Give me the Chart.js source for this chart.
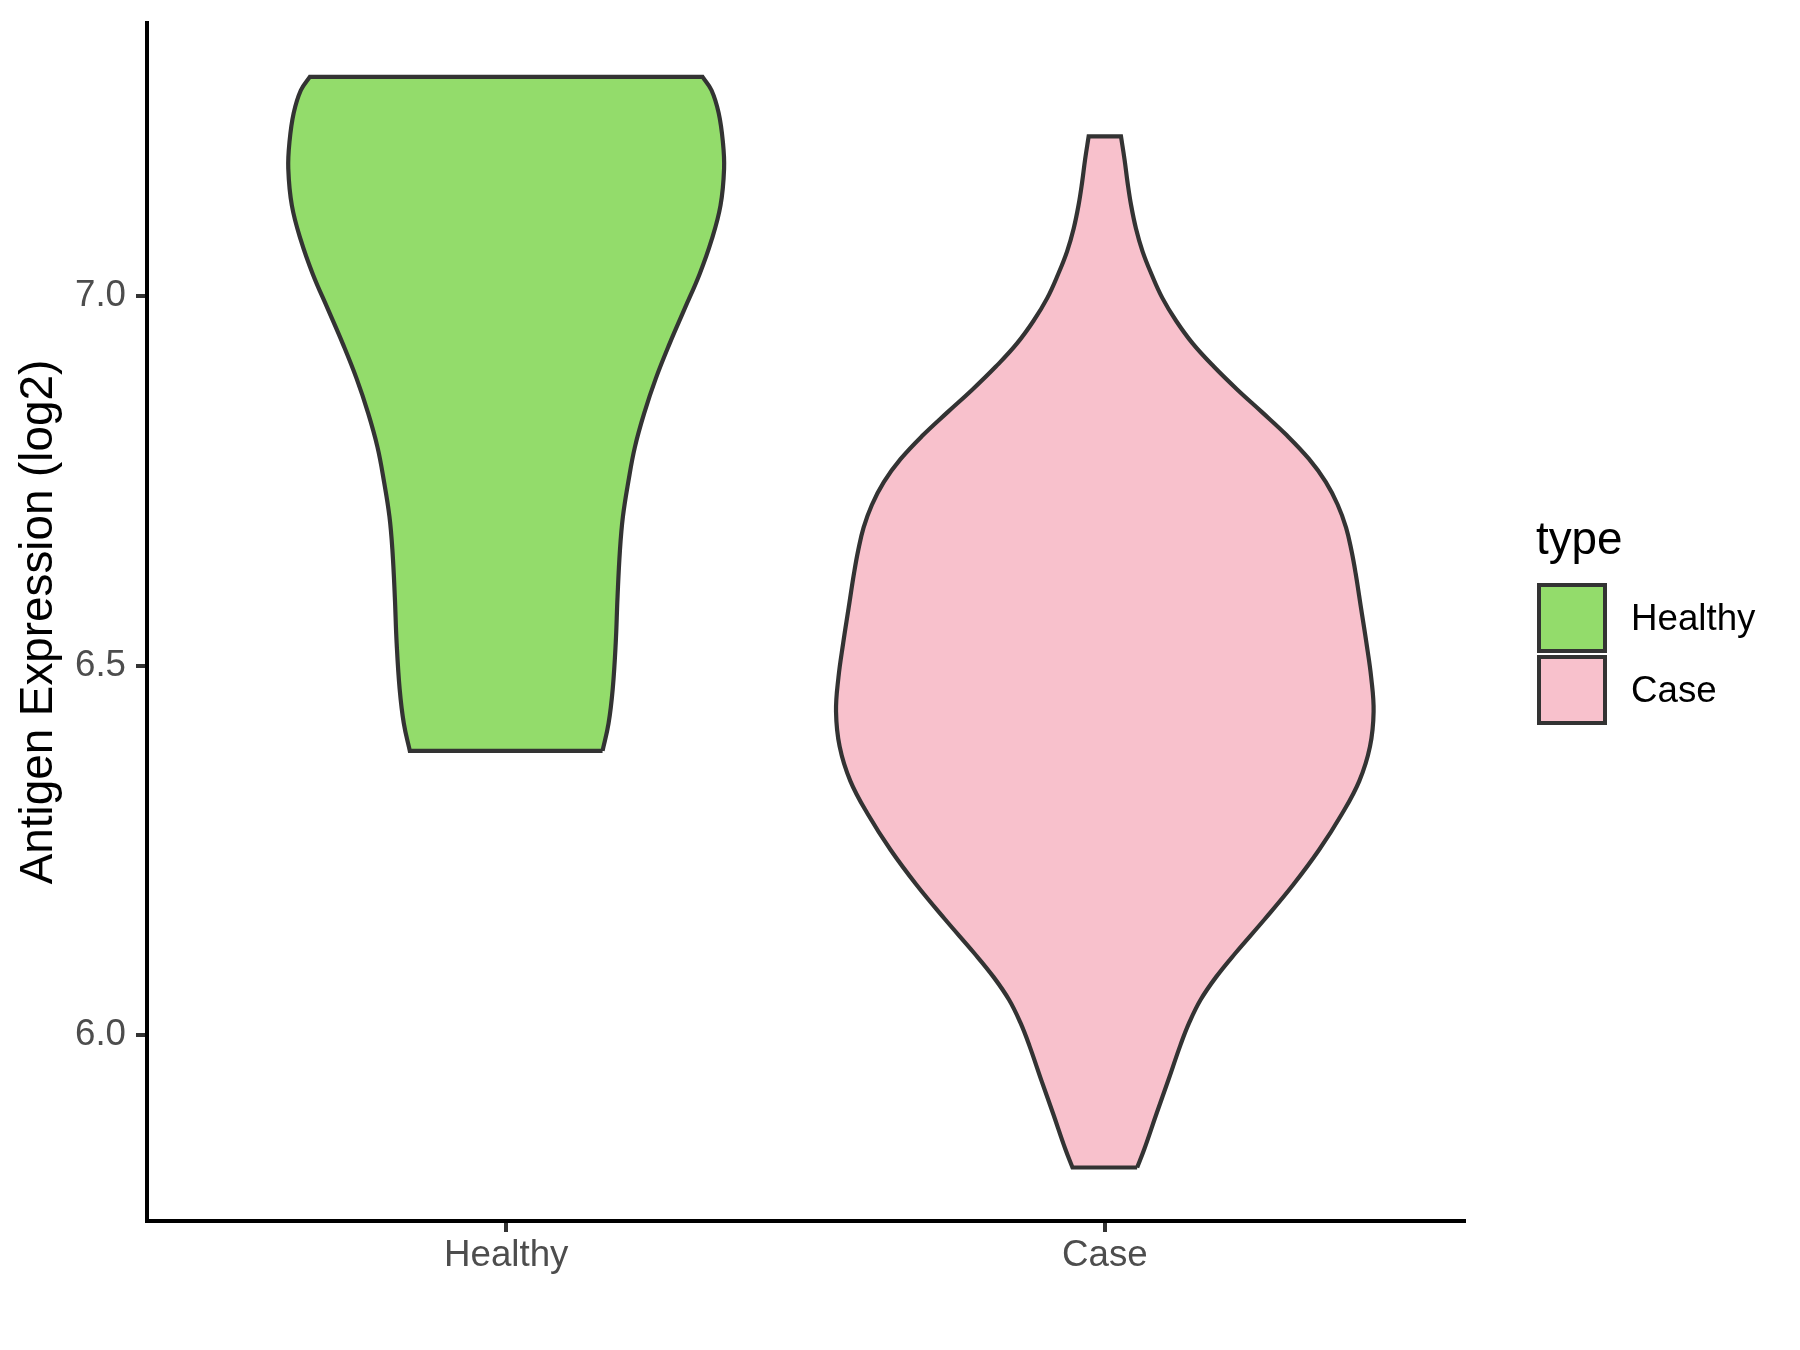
<!DOCTYPE html>
<html><head><meta charset="utf-8">
<script src="https://cdn.jsdelivr.net/npm/chart.js@4.4.1/dist/chart.umd.min.js"></script>
<style>
html,body{margin:0;padding:0;background:#fff;}
#wrap{position:relative;width:1800px;height:1350px;font-family:"Liberation Sans",Arial,sans-serif;}
canvas{position:absolute;left:0;top:0;}
.lg{position:absolute;white-space:nowrap;}
.key{position:absolute;box-sizing:border-box;border:4px solid #333333;}
</style></head><body>
<div id="wrap"><canvas id="c" width="1800" height="1350"></canvas></div>
<script>
// ---- data ----
const categories = ['Healthy', 'Case'];
const fillColors = ['#93DC6B', '#F8C1CC'];
const legendTitle = 'type';
const yAxisTitle = 'Antigen Expression (log2)';
const yTickValues = [6.0, 6.5, 7.0];
const yTickLabels = ['6.0', '6.5', '7.0'];
const yMin = 5.7486, yMax = 7.37;

// violin outlines: expression values and half-widths (in category units)
const healthyY  = [6.385, 6.422, 6.469, 6.531, 6.593, 6.656, 6.702, 6.749, 6.796, 6.843, 6.889, 6.936, 6.983, 7.030, 7.076, 7.123, 7.173, 7.209, 7.248, 7.279, 7.297];
const healthyHW = [0.161, 0.171, 0.178, 0.183, 0.186, 0.190, 0.195, 0.204, 0.215, 0.231, 0.250, 0.273, 0.298, 0.323, 0.343, 0.358, 0.364, 0.362, 0.355, 0.343, 0.328];
const caseY  = [5.821, 5.846, 5.893, 5.939, 5.986, 6.017, 6.048, 6.079, 6.111, 6.157, 6.204, 6.251, 6.298, 6.344, 6.391, 6.438, 6.484, 6.531, 6.578, 6.625, 6.656, 6.687, 6.718, 6.749, 6.780, 6.812, 6.843, 6.874, 6.905, 6.936, 6.967, 6.998, 7.030, 7.061, 7.092, 7.123, 7.154, 7.185, 7.2165];
const caseHW = [0.054, 0.066, 0.086, 0.106, 0.126, 0.141, 0.160, 0.186, 0.218, 0.267, 0.315, 0.358, 0.395, 0.425, 0.443, 0.449, 0.445, 0.437, 0.428, 0.419, 0.412, 0.403, 0.389, 0.369, 0.341, 0.304, 0.263, 0.221, 0.182, 0.147, 0.119, 0.096, 0.078, 0.063, 0.052, 0.044, 0.038, 0.033, 0.027];

const FONT = '"Liberation Sans", Arial, sans-serif';

// closed outline; cap corners are repeated so the spline keeps them sharp
function outline(center, ys, hws) {
  const n = ys.length;
  const pts = [];
  for (let i = 0; i < n; i++) pts.push({x: center + hws[i], y: ys[i]});
  pts.push({x: center + hws[n - 1], y: ys[n - 1]});
  pts.push({x: center - hws[n - 1], y: ys[n - 1]});
  for (let i = n - 1; i >= 0; i--) pts.push({x: center - hws[i], y: ys[i]});
  pts.push({x: center - hws[0], y: ys[0]});
  pts.push({x: center + hws[0], y: ys[0]});
  return pts;
}

const violins = [[healthyY, healthyHW], [caseY, caseHW]];
const datasets = violins.map((v, i) => ({
  label: categories[i],
  data: outline(i + 1, v[0], v[1]),
  borderColor: '#333333',
  borderWidth: 4.2,
  backgroundColor: fillColors[i],
  fill: 'shape',
  pointRadius: 0,
  tension: 0.4,
  borderJoinStyle: 'miter'
}));

const axisGrid = {display: true, drawOnChartArea: false, drawTicks: true, tickLength: 11, color: '#333333', lineWidth: 4};
const axisBorder = {display: true, color: '#000000', width: 4};
const noPad = s => { s.paddingTop = 0; s.paddingBottom = 0; s.paddingLeft = 0; s.paddingRight = 0; };

new Chart(document.getElementById('c'), {
  type: 'line',
  data: {datasets},
  options: {
    responsive: false, devicePixelRatio: 1, animation: false,
    layout: {padding: {left: 0, right: 336, top: 23, bottom: 0}},
    plugins: {legend: {display: false}, tooltip: {enabled: false}},
    scales: {
      x: {
        type: 'linear', min: 0.4, max: 2.6,
        afterBuildTicks: s => { s.ticks = categories.map((c, i) => ({value: i + 1})); },
        afterFit: s => { s.height = 129; noPad(s); },
        ticks: {callback: v => categories[Math.round(v) - 1], font: {family: FONT, size: 36.7}, color: '#4D4D4D', padding: 2, maxRotation: 0, autoSkip: false},
        grid: axisGrid, border: axisBorder
      },
      y: {
        type: 'linear', min: yMin, max: yMax,
        afterBuildTicks: s => { s.ticks = yTickValues.map(v => ({value: v})); },
        afterFit: s => { s.width = 147; noPad(s); },
        ticks: {callback: v => { const k = yTickValues.findIndex(t => Math.abs(t - v) < 1e-9); return k >= 0 ? yTickLabels[k] : ''; },
                font: {family: FONT, size: 36.7}, color: '#4D4D4D', padding: 10},
        grid: axisGrid, border: axisBorder,
        title: {display: true, text: yAxisTitle, font: {family: FONT, size: 45.8}, color: '#000000', padding: {top: 12, bottom: 0}}
      }
    }
  }
});

// legend (HTML text)
const wrap = document.getElementById('wrap');
const t = document.createElement('div');
t.className = 'lg'; t.textContent = legendTitle;
t.style.cssText = 'left:1536px;top:516px;font-size:45.8px;line-height:46px;color:#000;';
wrap.appendChild(t);
categories.forEach((c, i) => {
  const top = 583 + i * 72;
  const k = document.createElement('div');
  k.className = 'key';
  k.style.cssText = `left:1537px;top:${top}px;width:70px;height:70px;background:${fillColors[i]};`;
  wrap.appendChild(k);
  const l = document.createElement('div');
  l.className = 'lg'; l.textContent = c;
  l.style.cssText = `left:1631px;top:${top}px;height:70px;line-height:70px;font-size:36.7px;color:#000;`;
  wrap.appendChild(l);
});
</script>
</body></html>
